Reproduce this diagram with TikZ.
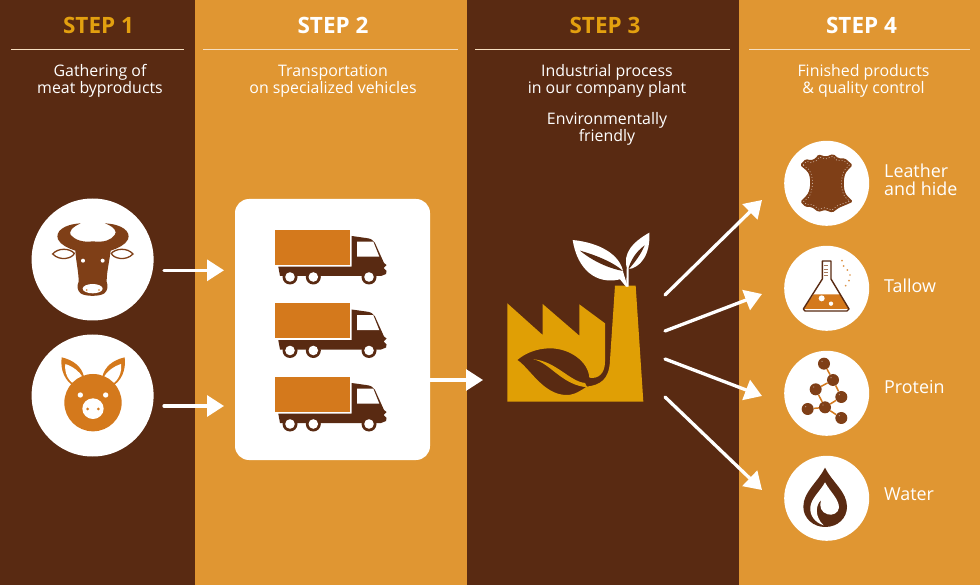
\documentclass[tikz,border=0pt]{standalone}
\usepackage{fontspec}
\setmainfont{Open Sans}
\usetikzlibrary{arrows.meta}
\definecolor{dbrown}{HTML}{592A12}
\definecolor{lorange}{HTML}{E09632}
\definecolor{burnt}{HTML}{D4791C}
\definecolor{rust}{HTML}{7F3F17}
\definecolor{gold}{HTML}{E09F05}
\definecolor{stepgold}{HTML}{E3A00F}
\tikzset{
  steptitle/.style={font=\fontsize{22.5}{26}\selectfont\bfseries,anchor=center},
  bodytext/.style={font=\fontsize{15.9}{16.5}\selectfont,text=white,align=center,anchor=center,inner sep=0},
  prodtext/.style={font=\fontsize{17.9}{17.5}\selectfont,text=white,align=left,anchor=west,inner sep=0},
  disc/.style={circle,fill=white,inner sep=0,minimum size=#1},
  flow/.style={draw=white,line width=3.3pt,line cap=round,-{Triangle[length=17pt,width=21pt]}},
  rulewhite/.style={draw=white!70!lorange,line width=0.6pt},
  atom/.style={circle,fill=rust,inner sep=0,minimum size=12pt},
  truckpic/.pic={
    \fill[burnt] (0,0) rectangle (75,35);
    \fill[dbrown] (3.3,36.7) -- (76.7,36.7) -- (76.7,6) -- (91,8) .. controls (96,8.5) and (98,10) .. (100,13)
      -- (109,33) -- (111.5,35) -- (108.5,38) -- (111.5,41) -- (111,44) -- (106,46) -- (5,46) -- cycle;
    \fill[white] (82,11.7) -- (98.3,11.7) -- (104.3,26.7) -- (82,26.7) -- cycle;
    \foreach \wx in {15,38.3,94}{
      \fill[dbrown] (\wx,47) circle (7.5);
      \fill[white] (\wx,47) circle (4.8);
    }
  }
}
\begin{document}
\begin{tikzpicture}[x=1pt,y=-1pt]
\useasboundingbox (0,0) rectangle (980,585);
\fill[dbrown] (0,0) rectangle (980,585);
\fill[lorange] (195,0) rectangle (467,585);
\fill[lorange] (739,0) rectangle (980,585);
% headers
\node[steptitle,text=stepgold] (s1) at (98.5,25) {STEP 1};
\node[steptitle,text=white] (s2) at (333,25) {STEP 2};
\node[steptitle,text=stepgold] (s3) at (605,25) {STEP 3};
\node[steptitle,text=white] (s4) at (861.5,25) {STEP 4};
\draw[rulewhite] (11,49) -- (184,49);
\draw[rulewhite] (203,49) -- (458,49);
\draw[rulewhite] (475,49) -- (730,49);
\draw[rulewhite] (749,49) -- (970,49);
\node[bodytext] (t1) at (100,81) {Gathering of\\meat byproducts};
\node[bodytext] (t2) at (333,81) {Transportation\\on specialized vehicles};
\node[bodytext] (t3) at (607,81) {Industrial process\\in our company plant};
\node[bodytext] (t3b) at (607,129) {Environmentally\\friendly};
\node[bodytext] (t4) at (863.5,81) {Finished products\\\& quality control};
% discs
\node[disc=122pt] (cowd) at (92.6,259.5) {};
\node[disc=122pt] (pigd) at (92.6,395.5) {};
% cow
\begin{scope}[shift={(20,190)},scale=1/3]
\fill[rust] (182,100) .. controls (130,103) and (105,125) .. (114,148) .. controls (122,165) and (145,175) .. (166,182)
  .. controls (168,215) and (176,245) .. (176,275) .. controls (170,288) and (172,302) .. (182,310) .. controls (195,320) and (240,320) .. (253,310)
  .. controls (263,302) and (265,288) .. (260,275) .. controls (260,245) and (268,215) .. (272,182)
  .. controls (293,175) and (316,165) .. (324,148) .. controls (333,125) and (308,103) .. (255,100)
  .. controls (285,112) and (292,125) .. (284,135) .. controls (272,150) and (255,158) .. (218,154)
  .. controls (190,158) and (165,150) .. (152,135) .. controls (146,125) and (155,112) .. (182,100) -- cycle;
\fill[white] (218,296) ellipse (30 and 14);
\fill[burnt] (200,300) circle (2.6) (237,300) circle (2.6);
\fill[white] (189,212) circle (6) (248,212) circle (6);
\filldraw[fill=white,draw=rust,line width=1.3pt] (98,192) .. controls (115,172) and (150,175) .. (163,190) .. controls (158,205) and (120,215) .. (98,192) -- cycle;
\filldraw[fill=white,draw=rust,line width=1.3pt] (339,192) .. controls (322,172) and (287,175) .. (274,190) .. controls (279,205) and (317,215) .. (339,192) -- cycle;
\end{scope}
% pig
\begin{scope}[shift={(20,190)},scale=1/3]
\fill[burnt] (125,502) .. controls (160,510) and (185,530) .. (192,560) -- (165,590) .. controls (135,575) and (120,540) .. (125,502) -- cycle;
\fill[burnt] (314,502) .. controls (279,510) and (254,530) .. (247,560) -- (274,590) .. controls (304,575) and (319,540) .. (314,502) -- cycle;
\fill[white] (136,522) .. controls (160,530) and (178,545) .. (187,560) -- (162,582) .. controls (142,570) and (133,545) .. (136,522) -- cycle;
\fill[white] (303,522) .. controls (279,530) and (261,545) .. (252,560) -- (277,582) .. controls (297,570) and (306,545) .. (303,522) -- cycle;
\fill[burnt] (219,638) circle (86);
\fill[white] (181,615) circle (8) (257,615) circle (8);
\fill[white] (219,656) ellipse (32 and 31);
\fill[burnt] (203,657) circle (4.5) (235,657) circle (4.5);
\end{scope}
\coordinate (a1s) at (164,270.3);
\coordinate (a1e) at (224,270.3);
\coordinate (a2s) at (164,406);
\coordinate (a2e) at (224,406);
\draw[flow] (a1s) -- (a1e);
\draw[flow] (a2s) -- (a2e);
% white box and trucks
\node[fill=white,rounded corners=14pt,minimum width=195pt,minimum height=261pt,inner sep=0] (tbox) at (332.5,329.5) {};
\pic at (275,230) {truckpic};
\pic at (275,303.5) {truckpic};
\pic at (275,377) {truckpic};
\coordinate (a3e) at (483,380);
\draw[flow,line cap=butt] (tbox.east |- a3e) -- (a3e);
% factory
\begin{scope}[shift={(490,220)},scale=1/3]
\fill[gold] (52,250) -- (158,345) -- (158,252) -- (268,347) -- (268,253) -- (345,310) -- (345,425)
  .. controls (345,460) and (325,478) .. (298,473)
  .. controls (295,425) and (240,385) .. (180,385) .. controls (140,385) and (105,400) .. (82,420)
  .. controls (120,445) and (160,525) .. (230,525) .. controls (255,525) and (275,510) .. (290,500)
  .. controls (330,495) and (358,480) .. (360,420) -- (375,197) -- (437,197) -- (460,545) -- (52,545) -- cycle;
\fill[gold] (130,418) .. controls (180,428) and (215,495) .. (292,502) -- (285,489)
  .. controls (240,485) and (195,422) .. (130,418) -- cycle;
% plant
\fill[white] (248,60) .. controls (330,68) and (392,105) .. (400,158) -- (413,200) -- (408,200) -- (390,178)
  .. controls (320,195) and (262,150) .. (248,60) -- cycle;
\fill[dbrown] (270,92) .. controls (320,106) and (372,128) .. (399,153) .. controls (360,146) and (310,125) .. (270,92) -- cycle;
\fill[white] (478,38) .. controls (430,65) and (395,100) .. (412,148) .. controls (450,145) and (482,105) .. (478,38) -- cycle;
\fill[dbrown] (464,76) .. controls (438,95) and (422,120) .. (414,150) .. controls (432,130) and (452,105) .. (464,76) -- cycle;
\fill[white] (409,200) -- (410,145) -- (416,145) -- (416,200) -- cycle;
\end{scope}
% product discs
\node[disc=85pt] (p1) at (826.7,183.3) {};
\node[disc=85pt] (p2) at (826.7,288.3) {};
\node[disc=85pt] (p3) at (826.7,393.3) {};
\node[disc=85pt] (p4) at (826.7,498.3) {};
% hide
\begin{scope}[shift={(775,135)},scale=1/3]
\fill[rust,rounded corners=1.5pt] (75,90) -- (92,72) -- (108,76) -- (122,70) -- (130,58) -- (152,65) -- (175,57) -- (190,70) -- (210,70) -- (233,90)
  -- (216,108) .. controls (204,125) and (204,165) .. (216,182) -- (234,200) -- (212,210) -- (192,218) -- (172,233) -- (150,225) -- (130,231) -- (110,216) -- (92,216) -- (76,200)
  -- (96,180) .. controls (108,160) and (108,125) .. (96,108) -- cycle;
\draw[white!65!rust,line width=0.6pt,dash pattern=on 1pt off 2pt] (84,90) -- (95,79) -- (109,83) -- (124,77) -- (133,66) -- (152,72) -- (173,64) -- (187,77) -- (207,77) -- (223,90)
  -- (210,104) .. controls (196,125) and (196,165) .. (210,186) -- (224,199) -- (209,204) -- (189,211) -- (171,225) -- (150,218) -- (132,223) -- (113,209) -- (95,209) -- (86,199)
  -- (102,186) .. controls (116,160) and (116,125) .. (102,104) -- cycle;
\end{scope}
% flask
\begin{scope}[shift={(775,135)},scale=1/3]
\fill[burnt] (116,478) -- (194,478) -- (222,522) -- (85,522) -- cycle;
\draw[dbrown,line width=1.4pt,line join=round] (142,378) -- (168,378) -- (168,432) -- (222,522) -- (216,528) -- (90,528) -- (85,522) -- (142,432) -- cycle;
\foreach \ty in {392,402,412,422} \draw[rust!70,line width=0.8pt] (146,\ty) -- (158,\ty);
\fill[white] (140,490) circle (9) (168,506) circle (6.5);
\fill[burnt!80] (201,377) circle (2.8) (206,393) circle (2.8) (217,405) circle (2.8) (225,420) circle (2.8) (222,437) circle (2.8) (212,452) circle (2.8);
\end{scope}
% molecule
\begin{scope}[shift={(775,345)},scale=1/3]
\node[atom] (m1) at (147,56) {};
\node[atom] (m2) at (174,105) {};
\node[atom] (m3) at (122,133) {};
\node[atom] (m4) at (199,156) {};
\node[atom] (m5) at (150,187) {};
\node[atom] (m6) at (98,192) {};
\node[atom] (m7) at (199,219) {};
\draw[burnt,line width=1.5pt] (m1)--(m2) (m2)--(m4) (m4)--(m5) (m5)--(m3) (m3)--(m2) (m6)--(m5) (m5)--(m7);
\foreach \mm in {m1,m2,m3,m4,m5,m6,m7} \fill[white!45!rust] (\mm) ++(-6,-7) circle (2);
\end{scope}
% drop
\begin{scope}[shift={(775,345)},scale=1/3]
\fill[dbrown] (150,368) .. controls (130,410) and (85,440) .. (85,485) .. controls (85,520) and (115,546) .. (150,546)
  .. controls (190,546) and (216,518) .. (216,485) .. controls (216,440) and (170,410) .. (150,368) -- cycle;
\fill[white] (150,412) .. controls (165,440) and (192,462) .. (192,488) .. controls (190,505) and (172,512) .. (158,508)
  .. controls (138,502) and (132,485) .. (138,465) .. controls (122,480) and (118,515) .. (146,541)
  .. controls (118,532) and (104,510) .. (106,487) .. controls (108,460) and (135,440) .. (150,412) -- cycle;
\end{scope}
% product labels
\node[prodtext] (l1) at (884,180) {Leather\\and hide};
\node[prodtext] (l2) at (884,285.5) {Tallow};
\node[prodtext] (l3) at (884,387) {Protein};
\node[prodtext] (l4) at (884,494.5) {Water};
% factory arrows
\coordinate (f1) at (665,295);
\coordinate (e1) at (762,200);
\coordinate (f2) at (665,331);
\coordinate (e2) at (762,294);
\coordinate (f3) at (665,359);
\coordinate (e3) at (762,396);
\coordinate (f4) at (665,397);
\coordinate (e4) at (762,490);
\draw[flow] (f1) -- (e1);
\draw[flow] (f2) -- (e2);
\draw[flow] (f3) -- (e3);
\draw[flow] (f4) -- (e4);
\end{tikzpicture}
\end{document}
